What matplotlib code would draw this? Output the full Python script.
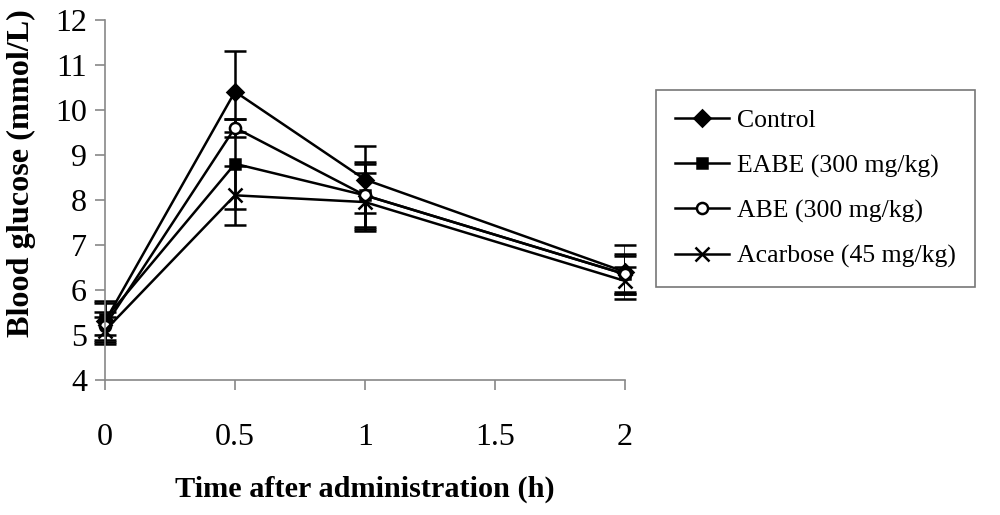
import matplotlib.pyplot as plt

# time points (h)
time = [0, 0.5, 1, 2]

control = [5.3, 10.4, 8.45, 6.4]
control_err = [0.45, 0.9, 0.75, 0.6]

eabe = [5.35, 8.8, 8.1, 6.35]
eabe_err = [0.35, 1.0, 0.75, 0.4]

abe = [5.2, 9.6, 8.1, 6.35]
abe_err = [0.3, 0.2, 0.7, 0.45]

acarbose = [5.1, 8.1, 7.95, 6.2]
acarbose_err = [0.3, 0.65, 0.65, 0.3]

labels = ['Control', 'EABE (300 mg/kg)', 'ABE (300 mg/kg)', 'Acarbose (45 mg/kg)']

plt.rcParams['font.family'] = ['Liberation Serif', 'DejaVu Serif']

fig = plt.figure(figsize=(10, 5.15), dpi=100)
ax = fig.add_axes([0.105, 0.262, 0.52, 0.7])

series = [
    (control, control_err, 'D', 'k', 8),
    (eabe, eabe_err, 's', 'k', 7),
    (abe, abe_err, 'o', 'white', 8),
    (acarbose, acarbose_err, 'x', 'k', 10),
]

for (vals, err, mk, fc, ms), lab in zip(series, labels):
    ax.errorbar(time, vals, yerr=err, color='k', marker=mk, markersize=ms,
                markerfacecolor=fc, markeredgecolor='k', markeredgewidth=1.8,
                linewidth=1.8, elinewidth=1.8, capsize=8, capthick=1.8,
                label=lab)

ax.set_xlim(0, 2)
ax.set_ylim(4, 12)
ax.set_xticks([0, 0.5, 1, 1.5, 2])
ax.set_xticklabels(['0', '0.5', '1', '1.5', '2'])
ax.set_yticks(range(4, 13))

for s in ['top', 'right']:
    ax.spines[s].set_visible(False)
for s in ['left', 'bottom']:
    ax.spines[s].set_color('#888888')
    ax.spines[s].set_linewidth(1.2)
ax.tick_params(direction='out', length=7, width=1.2, color='#888888',
               labelsize=23)
ax.tick_params(axis='x', pad=24)
ax.tick_params(axis='y', pad=6)
for ln in ax.lines:
    ln.set_clip_on(False)

ax.set_xlabel('Time after administration (h)', fontsize=21.8, fontweight='bold', labelpad=17)
ax.set_ylabel('Blood glucose (mmol/L)', fontsize=23.2, fontweight='bold')
ax.yaxis.set_label_coords(-0.133, 0.573)

handles, labs = ax.get_legend_handles_labels()
handles = [h[0] for h in handles]
leg = fig.legend(handles, labs, loc='upper left', bbox_to_anchor=(0.656, 0.825),
                 fontsize=18.5, frameon=True, fancybox=False, edgecolor='#555555',
                 handlelength=2.1, handletextpad=0.3, labelspacing=0.85,
                 borderpad=0.75, borderaxespad=0)
leg.get_frame().set_linewidth(1.2)

fig.savefig('out.png', dpi=100)
